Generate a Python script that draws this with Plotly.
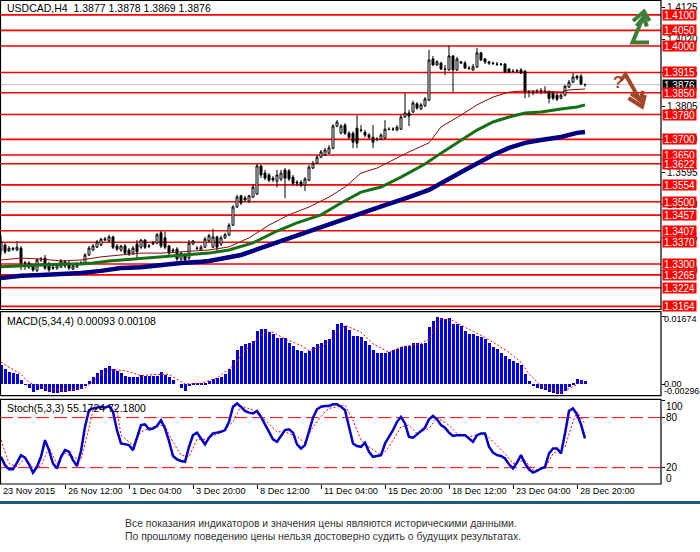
import plotly.graph_objects as go

# ---------------- data ----------------
SYMBOL = "USDCAD,H4"
LAST_OHLC = [1.3877, 1.3878, 1.3869, 1.3876]

OPEN = [1.3345,1.3361,1.3342,1.3351,1.3345,1.3351,1.3303,1.3303,1.3294,1.3278,
        1.3313,1.3319,1.3300,1.3290,1.3287,1.3290,1.3307,1.3303,1.3284,1.3290,
        1.3300,1.3303,1.3329,1.3345,1.3354,1.3361,1.3377,1.3374,1.3387,1.3358,
        1.3345,1.3358,1.3345,1.3335,1.3364,1.3354,1.3377,1.3358,1.3364,1.3367,
        1.3400,1.3384,1.3358,1.3345,1.3348,1.3316,1.3329,1.3319,1.3364,1.3351,
        1.3345,1.3354,1.3374,1.3354,1.3387,1.3364,1.3384,1.3393,1.3425,1.3483,
        1.3519,1.3512,1.3502,1.3515,1.3524,1.3615,1.3592,1.3586,1.3576,1.3566,
        1.3573,1.3602,1.3599,1.3579,1.3563,1.3563,1.3553,1.3569,1.3608,1.3624,
        1.3643,1.3650,1.3656,1.3672,1.3743,1.3720,1.3746,1.3720,1.3720,1.3736,
        1.3730,1.3723,1.3714,1.3707,1.3701,1.3701,1.3704,1.3733,1.3732,1.3730,
        1.3733,1.3772,1.3785,1.3788,1.3814,1.3798,1.3808,1.3826,1.3958,1.3939,
        1.3945,1.3926,1.3923,1.3968,1.3923,1.3945,1.3945,1.3929,1.3923,1.3933,
        1.3978,1.3958,1.3949,1.3945,1.3942,1.3942,1.3942,1.3926,1.3919,1.3919,
        1.3923,1.3919,1.3852,1.3852,1.3855,1.3855,1.3855,1.3852,1.3848,1.3842,
        1.3832,1.3842,1.3868,1.3884,1.3903,1.3903,1.3877]
HIGH = [1.3391,1.3367,1.3358,1.3354,1.3374,1.3358,1.3310,1.3310,1.3300,1.3319,
        1.3322,1.3329,1.3307,1.3297,1.3303,1.3316,1.3313,1.3310,1.3300,1.3307,
        1.3310,1.3335,1.3358,1.3364,1.3377,1.3384,1.3387,1.3394,1.3391,1.3364,
        1.3361,1.3364,1.3351,1.3358,1.3377,1.3380,1.3380,1.3364,1.3374,1.3400,
        1.3407,1.3404,1.3361,1.3351,1.3354,1.3339,1.3335,1.3377,1.3377,1.3358,
        1.3361,1.3387,1.3397,1.3413,1.3391,1.3391,1.3400,1.3431,1.3489,1.3522,
        1.3522,1.3519,1.3522,1.3554,1.3621,1.3618,1.3602,1.3592,1.3582,1.3602,
        1.3602,1.3608,1.3605,1.3586,1.3569,1.3569,1.3579,1.3618,1.3631,1.3650,
        1.3666,1.3673,1.3682,1.3749,1.3762,1.3749,1.3752,1.3726,1.3726,1.3778,
        1.3746,1.3730,1.3720,1.3746,1.3707,1.3720,1.3762,1.3739,1.3739,1.3746,
        1.3779,1.3849,1.3795,1.3824,1.3820,1.3817,1.3836,1.3988,1.3968,1.3955,
        1.3949,1.3939,1.4001,1.3971,1.3965,1.3952,1.3952,1.3936,1.3942,1.3994,
        1.3981,1.3962,1.3952,1.3949,1.3949,1.3945,1.3945,1.3929,1.3926,1.3926,
        1.3929,1.3923,1.3858,1.3858,1.3861,1.3865,1.3871,1.3858,1.3855,1.3848,
        1.3848,1.3874,1.3891,1.3913,1.3907,1.3910,1.3878]
LOW = [1.3329,1.3332,1.3339,1.3342,1.3342,1.3281,1.3281,1.3284,1.3275,1.3275,
       1.3307,1.3281,1.3275,1.3281,1.3281,1.3287,1.3287,1.3281,1.3281,1.3287,
       1.3297,1.3300,1.3326,1.3342,1.3351,1.3358,1.3374,1.3371,1.3348,1.3342,
       1.3339,1.3329,1.3326,1.3329,1.3319,1.3348,1.3348,1.3351,1.3361,1.3364,
       1.3351,1.3348,1.3329,1.3335,1.3310,1.3310,1.3310,1.3313,1.3361,1.3345,
       1.3342,1.3351,1.3371,1.3351,1.3339,1.3358,1.3380,1.3390,1.3422,1.3480,
       1.3489,1.3499,1.3496,1.3512,1.3524,1.3576,1.3569,1.3563,1.3563,1.3546,
       1.3566,1.3511,1.3566,1.3553,1.3550,1.3546,1.3534,1.3566,1.3605,1.3621,
       1.3640,1.3647,1.3653,1.3668,1.3739,1.3717,1.3714,1.3701,1.3672,1.3672,
       1.3723,1.3707,1.3701,1.3672,1.3694,1.3698,1.3701,1.3730,1.3727,1.3726,
       1.3730,1.3769,1.3743,1.3785,1.3795,1.3795,1.3804,1.3823,1.3936,1.3936,
       1.3923,1.3907,1.3920,1.3852,1.3920,1.3942,1.3926,1.3923,1.3920,1.3929,
       1.3952,1.3942,1.3939,1.3939,1.3936,1.3936,1.3913,1.3913,1.3916,1.3913,
       1.3910,1.3832,1.3835,1.3842,1.3848,1.3845,1.3848,1.3816,1.3826,1.3823,
       1.3829,1.3838,1.3865,1.3881,1.3891,1.3874,1.3869]
CLOSE = [1.3371,1.3339,1.3351,1.3348,1.3354,1.3303,1.3304,1.3290,1.3281,1.3313,
         1.3316,1.3287,1.3281,1.3287,1.3297,1.3310,1.3294,1.3287,1.3294,1.3300,
         1.3303,1.3329,1.3351,1.3358,1.3371,1.3380,1.3380,1.3387,1.3354,1.3348,
         1.3358,1.3335,1.3332,1.3351,1.3339,1.3377,1.3354,1.3357,1.3367,1.3394,
         1.3358,1.3354,1.3335,1.3342,1.3316,1.3335,1.3313,1.3367,1.3374,1.3350,
         1.3354,1.3380,1.3391,1.3387,1.3354,1.3384,1.3394,1.3425,1.3483,1.3515,
         1.3496,1.3506,1.3519,1.3547,1.3615,1.3586,1.3576,1.3569,1.3570,1.3586,
         1.3592,1.3576,1.3573,1.3559,1.3560,1.3553,1.3573,1.3611,1.3624,1.3643,
         1.3660,1.3666,1.3673,1.3743,1.3756,1.3743,1.3720,1.3707,1.3691,1.3688,
         1.3729,1.3714,1.3707,1.3691,1.3700,1.3714,1.3733,1.3732,1.3733,1.3739,
         1.3772,1.3785,1.3775,1.3817,1.3801,1.3811,1.3830,1.3955,1.3939,1.3949,
         1.3926,1.3925,1.3968,1.3923,1.3958,1.3949,1.3929,1.3928,1.3933,1.3978,
         1.3955,1.3949,1.3945,1.3944,1.3941,1.3941,1.3916,1.3916,1.3918,1.3920,
         1.3913,1.3852,1.3853,1.3851,1.3854,1.3856,1.3854,1.3832,1.3832,1.3829,
         1.3842,1.3871,1.3884,1.3900,1.3897,1.3878,1.3876]
BARS = list(range(len(CLOSE)))

MA_FAST_IDX = [0,5,10,15,20,25,30,35,40,45,50,52,57,62,67,72,77,82,86,90,
               94,98,102,107,110,115,119,123,127,130,135,140,142,146]
MA_FAST = [1.3313,1.3319,1.3316,1.3310,1.3313,1.3323,1.3329,1.3335,1.3335,1.3339,
           1.3342,1.3345,1.3355,1.3384,1.3425,1.3458,1.3483,1.3515,1.3547,1.3592,
           1.3608,1.3634,1.3660,1.3689,1.3740,1.3778,1.3811,1.3836,1.3852,1.3855,
           1.3855,1.3852,1.3859,1.3862]
MA_MID_IDX = [0,5,10,16,20,23,27,33,38,41,46,52,57,63,69,74,80,85,90,95,
              100,106,110,115,119,123,127,131,135,140,144,146]
MA_MID = [1.3291,1.3294,1.3297,1.3300,1.3300,1.3303,1.3310,1.3316,1.3323,1.3326,
          1.3329,1.3335,1.3345,1.3368,1.3406,1.3432,1.3458,1.3496,1.3531,1.3547,
          1.3579,1.3621,1.3656,1.3698,1.3730,1.3756,1.3772,1.3785,1.3788,1.3798,
          1.3804,1.3811]
MA_SLOW_IDX = [0,5,10,15,20,25,30,35,40,45,50,52,60,69,77,85,94,102,107,116,
               123,127,131,135,140,144,146]
MA_SLOW = [1.3255,1.3262,1.3265,1.3268,1.3271,1.3278,1.3287,1.3290,1.3297,1.3303,
           1.3307,1.3310,1.3329,1.3368,1.3403,1.3441,1.3480,1.3515,1.3538,1.3602,
           1.3650,1.3673,1.3689,1.3698,1.3708,1.3721,1.3724]

LEVELS = [1.4100,1.4050,1.4000,1.3915,1.3850,1.3780,1.3700,1.3650,1.3622,1.3554,
          1.3500,1.3457,1.3407,1.3370,1.3300,1.3265,1.3224,1.3164]
CURRENT_PRICE = 1.3876
PRICE_TICKS = [1.4125,1.4020,1.3915,1.3805,1.3700,1.3595,1.3490,1.3385,1.3280]

MACD_PARAMS = "MACD(5,34,4)"
MACD_LAST = ["0.00093", "0.00108"]
MACD_HIST = [0.0048,0.0038,0.0031,0.0028,0.0025,0.0010,-0.0001,-0.0010,-0.0019,-0.0015,
             -0.0012,-0.0016,-0.0019,-0.0022,-0.0022,-0.0019,-0.0018,-0.0017,-0.0016,-0.0015,
             -0.0012,-0.0004,0.0009,0.0019,0.0029,0.0036,0.0040,0.0045,0.0039,0.0034,
             0.0029,0.0021,0.0017,0.0017,0.0019,0.0024,0.0021,0.0020,0.0020,0.0021,
             0.0031,0.0024,0.0019,0.0010,0.0000,-0.0010,-0.0016,-0.0004,0.0001,0.0001,
             0.0003,0.0001,0.0008,0.0012,0.0015,0.0018,0.0025,0.0038,0.0060,0.0085,
             0.0096,0.0100,0.0104,0.0108,0.0133,0.0137,0.0137,0.0129,0.0125,0.0116,
             0.0116,0.0114,0.0104,0.0096,0.0085,0.0083,0.0079,0.0083,0.0092,0.0100,
             0.0102,0.0110,0.0112,0.0135,0.0150,0.0152,0.0146,0.0135,0.0121,0.0121,
             0.0118,0.0108,0.0098,0.0085,0.0079,0.0077,0.0079,0.0081,0.0085,0.0088,
             0.0093,0.0096,0.0096,0.0102,0.0102,0.0100,0.0104,0.0143,0.0158,0.01674,
             0.0165,0.0162,0.0165,0.0151,0.0151,0.0146,0.0133,0.0126,0.0124,0.0121,
             0.0118,0.0112,0.0104,0.0094,0.0088,0.0079,0.0071,0.0063,0.0058,0.0054,
             0.0048,0.0025,0.0007,-0.0004,-0.0009,-0.0012,-0.0014,-0.0018,-0.0021,-0.0024,
             -0.0023,-0.0016,-0.0007,0.0004,0.0013,0.0011,0.00093]
MACD_SIG_IDX = [0,5,7,11,16,21,24,27,31,35,39,42,46,50,54,58,61,66,68,71,
                75,77,81,82,86,90,93,97,100,105,107,110,113,116,120,123,127,130,132,135,
                138,140,143,146]
MACD_SIG = [0.0054,0.0024,0.0004,-0.0010,-0.0015,-0.0010,0.0015,0.0036,0.0033,0.0021,
            0.0024,0.0024,0.0000,0.0002,0.0015,0.0045,0.0083,0.0129,0.0129,0.0112,
            0.0096,0.0083,0.0096,0.0108,0.0146,0.0129,0.0100,0.0079,0.0092,0.0100,
            0.0112,0.0162,0.0158,0.0141,0.0121,0.0104,0.0079,0.0054,0.0025,-0.0004,
            -0.0014,-0.0020,-0.0007,0.00108]
MACD_SCALE = [0.01674, 0.0, -0.00296]
MACD_SCALE_TEXT = ["0.01674", "0.00", "-0.00296"]

STOCH_PARAMS = "Stoch(5,3,3)"
STOCH_LAST = ["55.1724", "72.1800"]
STOCH_MAIN = [33,23,18,18,26,35,32,24,14,21,
              33,53,41,25,19,33,41,39,29,22,
              40,69,89,91,92,93,92,94,87,65,
              49,48,47,41,57,71,72,66,67,70,
              77,67,52,34,30,28,27,45,59,62,
              55,48,56,61,62,63,65,75,93,97,
              93,88,86,85,88,81,72,62,54,51,
              58,65,66,62,48,43,47,63,80,90,
              93,94,94,96,96,93,89,69,49,46,
              45,50,39,33,34,35,49,57,65,75,
              81,73,57,56,60,65,68,78,82,78,
              71,68,62,58,59,59,59,55,51,59,
              61,61,45,38,35,34,31,24,19,26,
              35,25,18,14,16,19,21,37,43,43,
              37,61,88,91,84,72,55.1724]
STOCH_SIG_IDX = [0,2,4,6,8,10,12,14,16,18,20,22,23,27,29,30,33,35,38,41,
                 42,45,47,49,51,55,58,60,63,66,69,71,74,76,78,81,82,86,88,90,
                 92,95,97,100,102,104,107,109,112,114,117,121,123,126,128,131,133,136,138,141,
                 143,144,146]
STOCH_SIG = [53,25,21,32,20,22,44,25,37,33,29,68,89,93,89,59,47,63,69,71,
             59,35,33,54,54,62,75,94,89,77,63,63,57,50,69,87,91,95,77,53,
             45,35,45,69,71,61,67,80,71,61,57,61,51,37,25,29,17,19,37,45,
             75,87,72.18]
STOCH_LEVELS = [80, 20]
STOCH_SCALE = [100, 80, 20, 0]

DATE_IDX = [0,16,32,48,64,80,96,112,128,144]
DATE_LABELS = ["23 Nov 2015","26 Nov 12:00","1 Dec 04:00","3 Dec 20:00","8 Dec 12:00",
               "11 Dec 04:00","15 Dec 20:00","18 Dec 12:00","23 Dec 04:00","28 Dec 20:00"]

DISCLAIMER = ["Все показания индикаторов и значения цены являются историческими данными.",
              "По прошлому поведению цены нельзя достоверно судить о будущих результатах."]

# ---------------- layout helpers ----------------
W, H = 700, 552
ML, MR, MT, MB = 0, 39, 0, 68
PW, PH = W - ML - MR, H - MT - MB
FONT = "Liberation Sans"

def px(x):
    return (x - ML) / PW

def py(y):
    return (H - MB - y) / PH

fig = go.Figure()

fig.add_trace(go.Candlestick(
    x=BARS, open=OPEN, high=HIGH, low=LOW, close=CLOSE,
    increasing=dict(line=dict(color="black", width=1), fillcolor="white"),
    decreasing=dict(line=dict(color="black", width=1), fillcolor="black"),
    whiskerwidth=0, xaxis="x", yaxis="y", hoverinfo="skip"))

fig.add_trace(go.Scatter(x=MA_SLOW_IDX, y=MA_SLOW, mode="lines",
                         line=dict(color="#000080", width=4.5), yaxis="y"))
fig.add_trace(go.Scatter(x=MA_MID_IDX, y=MA_MID, mode="lines",
                         line=dict(color="#157015", width=3), yaxis="y"))
fig.add_trace(go.Scatter(x=MA_FAST_IDX, y=MA_FAST, mode="lines",
                         line=dict(color="#8B0A0A", width=1), yaxis="y"))

fig.add_trace(go.Bar(x=BARS, y=MACD_HIST, width=0.75, marker=dict(color="#0000E6", line=dict(width=0)),
                     yaxis="y2"))
fig.add_trace(go.Scatter(x=MACD_SIG_IDX, y=MACD_SIG, mode="lines",
                         line=dict(color="#FF0000", width=1, dash="2px,2px"), yaxis="y2"))

fig.add_trace(go.Scatter(x=STOCH_SIG_IDX, y=STOCH_SIG, mode="lines",
                         line=dict(color="#FF0000", width=1, dash="2px,2px"), yaxis="y3"))
fig.add_trace(go.Scatter(x=BARS, y=STOCH_MAIN, mode="lines",
                         line=dict(color="#0000C8", width=2.5), yaxis="y3"))

shapes = []
for lv in LEVELS:
    shapes.append(dict(type="line", xref="paper", yref="y", x0=0, x1=1, y0=lv, y1=lv,
                       line=dict(color="#FF0000", width=1.6), layer="below"))
shapes.append(dict(type="line", xref="paper", yref="y", x0=0, x1=1, y0=CURRENT_PRICE, y1=CURRENT_PRICE,
                   line=dict(color="#C0C0C0", width=1), layer="below"))
for lv in STOCH_LEVELS:
    shapes.append(dict(type="line", xref="paper", yref="y3", x0=0, x1=1, y0=lv, y1=lv,
                       line=dict(color="#FF0000", width=1, dash="13px,5px"), layer="below"))
# panel frames
for (ya, yb) in [(0.5, 309.5), (311.7, 395.7), (399.3, 484)]:
    shapes.append(dict(type="rect", xref="paper", yref="paper", x0=px(0.5), x1=px(661),
                       y0=py(yb), y1=py(ya), line=dict(color="black", width=1.2)))
# separator line above disclaimer
shapes.append(dict(type="line", xref="paper", yref="paper", x0=px(0), x1=px(700),
                   y0=py(502.5), y1=py(502.5), line=dict(color="#1B5C78", width=3)))

def path(points):
    return "M " + " L ".join(f"{px(a):.5f},{py(b):.5f}" for a, b in points)

green = "#3C7D3A"
for pts in [[(633, 21), (644, 11.5), (649.5, 21)],
            [(636.5, 26), (643.5, 17.5), (647, 26.5)],
            [(641.5, 21), (632.5, 42.5), (649, 42.5)]]:
    shapes.append(dict(type="path", xref="paper", yref="paper", path=path(pts),
                       line=dict(color=green, width=4)))
brown = "#A4462A"
for pts in [[(621, 80), (625.5, 74.5), (640.5, 101)],
            [(628.5, 98), (642, 106.5), (645, 95)],
            [(631, 93.5), (640.5, 100.5), (643, 91)]]:
    shapes.append(dict(type="path", xref="paper", yref="paper", path=path(pts),
                       line=dict(color=brown, width=4)))

ann = []
def text(x, y, t, size=10, color="black", xanchor="left", xref="paper", yref="paper", **kw):
    ann.append(dict(x=x, y=y, xref=xref, yref=yref, text=t, showarrow=False,
                    xanchor=xanchor, yanchor="middle", font=dict(family=FONT, size=size, color=color), **kw))

text(px(5), py(8), f"{SYMBOL}  " + " ".join(f"{v:.4f}" for v in LAST_OHLC), size=10.5)
text(px(5), py(320.5), f"{MACD_PARAMS} {MACD_LAST[0]} {MACD_LAST[1]}", size=10.5)
text(px(5), py(408), f"{STOCH_PARAMS} {STOCH_LAST[0]} {STOCH_LAST[1]}", size=10.5)

# current price tag then level tags
text(px(662), CURRENT_PRICE, f"{CURRENT_PRICE:.4f}", size=10, color="white", yref="y",
     bgcolor="black", width=33, height=10, borderpad=0)
for lv in LEVELS:
    text(px(662), lv, f"{lv:.4f}", size=10, color="white", yref="y",
         bgcolor="#FF0000", width=33, height=10, borderpad=0)

# sub-window scale labels (placed in pixel rows of the panels)
for t, yy in zip(MACD_SCALE_TEXT, [319, 384, 390.5]):
    text(px(662), py(yy), t, size=9)
for v, yy in zip(STOCH_SCALE, [406, 417.7, 467.7, 478]):
    text(px(664), py(yy), str(v), size=10)

for i, lab in zip(DATE_IDX, DATE_LABELS):
    text(i, py(490.8), lab, size=9.2, xref="x", xshift=1 if i else 0)

text(px(123), py(523), DISCLAIMER[0], size=10.4, color="#333333")
text(px(123), py(536), DISCLAIMER[1], size=10.4, color="#333333")
text(px(611), py(82), "<b>?</b>", size=17, color=brown)

fig.update_layout(
    width=W, height=H, margin=dict(l=ML, r=MR, t=MT, b=MB),
    paper_bgcolor="white", plot_bgcolor="white", showlegend=False,
    font=dict(family=FONT, size=10, color="black"),
    bargap=0,
    xaxis=dict(domain=[0, 1], anchor="y3", range=[-0.25, 165], showgrid=False, zeroline=False,
               showline=False, rangeslider=dict(visible=False), tickvals=DATE_IDX[1:],
               ticks="outside", ticklen=4, tickcolor="black", showticklabels=False, fixedrange=True),
    yaxis=dict(domain=[py(309.5), 1], anchor="x", side="right", range=[1.3154, 1.41476],
               showgrid=False, zeroline=False, tickvals=PRICE_TICKS,
               ticktext=[f"{v:.4f}" for v in PRICE_TICKS], ticks="outside", ticklen=3,
               tickcolor="black", tickfont=dict(size=10, family=FONT)),
    yaxis2=dict(domain=[py(395.7), py(311.7)], anchor="x", side="right", range=[-0.00291, 0.01799],
                showgrid=False, zeroline=False, tickvals=MACD_SCALE[:2], ticks="outside", ticklen=3,
                tickcolor="black", showticklabels=False),
    yaxis3=dict(domain=[0, py(399.3)], anchor="x", side="right", range=[0.4, 102],
                showgrid=False, zeroline=False, tickvals=STOCH_SCALE[:3], ticks="outside", ticklen=3,
                tickcolor="black", showticklabels=False),
    shapes=shapes, annotations=ann,
)

fig.write_html("out.html", config={"displayModeBar": False},
               post_script="document.body.style.margin='0';document.body.style.overflow='hidden';")
